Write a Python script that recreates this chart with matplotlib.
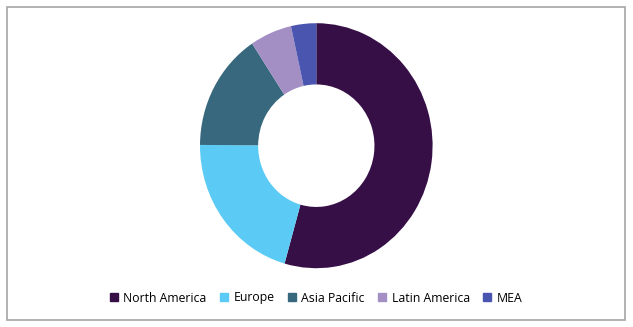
import matplotlib.pyplot as plt
from matplotlib.patches import Rectangle

regions = ["North America", "Europe", "Asia Pacific", "Latin America", "MEA"]
shares = [54.4, 20.7, 15.6, 5.8, 3.5]
colors = ["#360f47", "#5bcbf5", "#38687d", "#a38fc4", "#4a55b0"]

W, H = 633, 327
fig = plt.figure(figsize=(W / 100, H / 100), dpi=100)

# outer frame
fig.patches.append(Rectangle((7 / W, 1 - 320 / H), 618 / W, 313 / H,
                             transform=fig.transFigure, fill=False,
                             edgecolor="#a6a6a6", linewidth=1.2))

# donut: slightly taller than wide, like the original
cx, cy, rx, ry = 316.3, 145.7, 116.3, 122.5
ax = fig.add_axes([(cx - rx) / W, 1 - (cy + ry) / H, 2 * rx / W, 2 * ry / H])
ax.pie(shares, colors=colors, startangle=90, counterclock=False,
       radius=1.0, wedgeprops=dict(width=0.5, edgecolor="none"))
ax.set_xlim(-1, 1)
ax.set_ylim(-1, 1)
ax.set_aspect("auto")
ax.axis("off")

handles = [Rectangle((0, 0), 1, 1, color=c) for c in colors]
fig.legend(handles, regions, loc="center", bbox_to_anchor=(316 / W, 1 - 298 / H),
           ncol=5, frameon=False, handlelength=0.65, handleheight=0.65,
           handletextpad=0.45, columnspacing=1.1, prop={"family": "Open Sans", "size": 8.8})

fig.savefig("out.png", dpi=100)
